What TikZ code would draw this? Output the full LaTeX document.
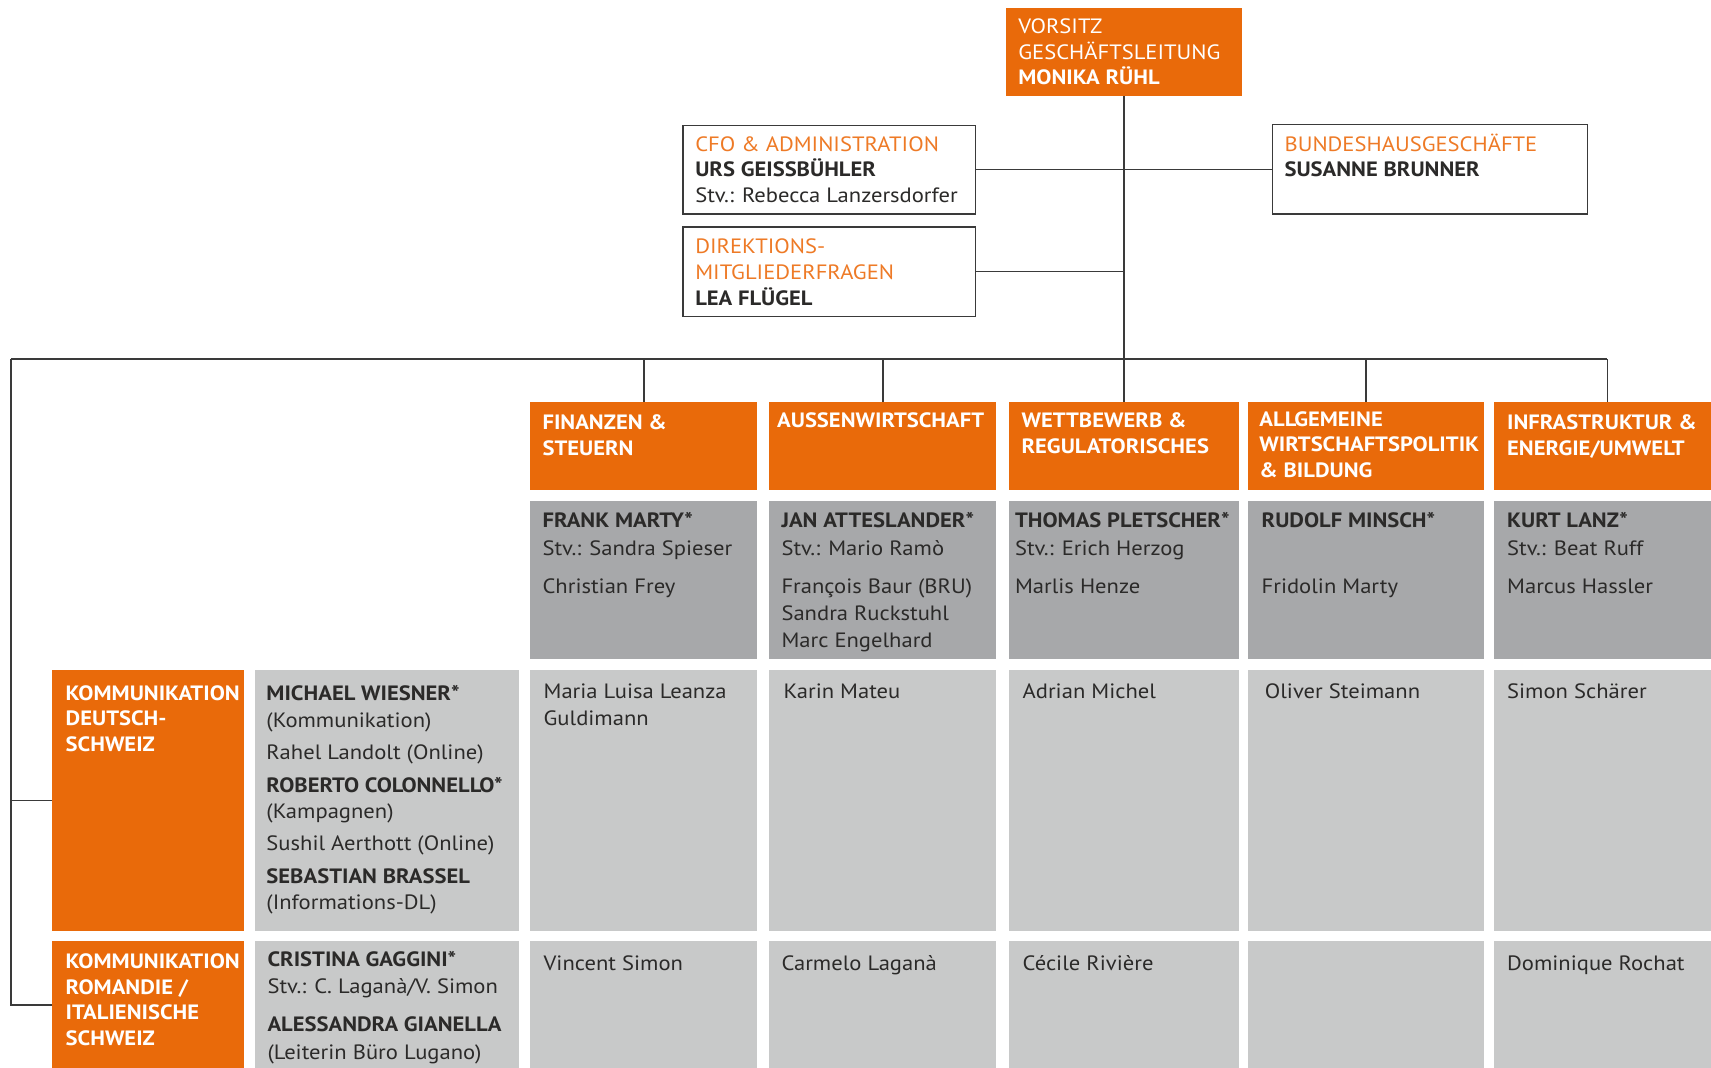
\documentclass[tikz,border=0pt]{standalone}
\usepackage{fontspec}
\setmainfont{PT Sans}[FakeStretch=1.09]
\definecolor{kader}{HTML}{E96A0A}
\definecolor{kaderschrift}{HTML}{EE7A26}
\definecolor{dunkelgrau}{HTML}{A7A8AA}
\definecolor{hellgrau}{HTML}{C8C9C9}
\definecolor{strich}{HTML}{3A3A3A}
\definecolor{schwarz}{HTML}{2B2A29}
\tikzset{
  kasten/.style={inner sep=0pt, outer sep=0pt, anchor=north west},
  rahmen/.style={kasten, draw=strich, line width=1.3pt, fill=white},
  ressort/.style={kasten, fill=kader},
  leitung/.style={kasten, fill=dunkelgrau},
  team/.style={kasten, fill=hellgrau},
  linie/.style={draw=strich, line width=1.3pt},
  schrift/.style={inner sep=0pt, anchor=north west, align=left, text=schwarz,
    font=\fontsize{19}{25}\selectfont},
  titel/.style={schrift, text=white, font=\fontsize{19}{23.5}\selectfont\bfseries},
  kopf/.style={schrift, font=\fontsize{19}{23.5}\selectfont},
}
\begin{document}
\begin{tikzpicture}[x=1pt,y=-1pt]
\useasboundingbox (0,0) rectangle (1568,978);
\clip (0,0) rectangle (1568,978);
\node[ressort, minimum width=216, minimum height=81] (vorsitz) at (922,7) {};
\node[rahmen, minimum width=268, minimum height=81] (cfo) at (626,115) {};
\node[rahmen, minimum width=289, minimum height=82] (bund) at (1166,114) {};
\node[rahmen, minimum width=268, minimum height=82] (dir) at (626,208) {};
\node[ressort, minimum width=208, minimum height=81] (fin) at (486,368) {};
\node[ressort, minimum width=208, minimum height=81] (aussen) at (705,368) {};
\node[ressort, minimum width=210, minimum height=81] (wett) at (925,368) {};
\node[ressort, minimum width=216, minimum height=81] (allg) at (1144,368) {};
\node[ressort, minimum width=208, minimum height=81] (infra) at (1369,368) {};
\node[leitung, minimum width=208, minimum height=145] (finL) at (486,459) {};
\node[leitung, minimum width=208, minimum height=145] (aussenL) at (705,459) {};
\node[leitung, minimum width=210, minimum height=145] (wettL) at (925,459) {};
\node[leitung, minimum width=216, minimum height=145] (allgL) at (1144,459) {};
\node[leitung, minimum width=216, minimum height=145] (infraL) at (1369,459) {};
\node[ressort, minimum width=176, minimum height=239] (kommd) at (48,614) {};
\node[team, minimum width=242, minimum height=239] (kommdS) at (234,614) {};
\node[team, minimum width=208, minimum height=239] (finD) at (486,614) {};
\node[team, minimum width=208, minimum height=239] (aussenD) at (705,614) {};
\node[team, minimum width=210, minimum height=239] (wettD) at (925,614) {};
\node[team, minimum width=216, minimum height=239] (allgD) at (1144,614) {};
\node[team, minimum width=216, minimum height=239] (infraD) at (1369,614) {};
\node[ressort, minimum width=176, minimum height=118] (kommr) at (48,862) {};
\node[team, minimum width=242, minimum height=118] (kommrS) at (234,862) {};
\node[team, minimum width=208, minimum height=118] (finR) at (486,862) {};
\node[team, minimum width=208, minimum height=118] (aussenR) at (705,862) {};
\node[team, minimum width=210, minimum height=118] (wettR) at (925,862) {};
\node[team, minimum width=216, minimum height=118] (allgR) at (1144,862) {};
\node[team, minimum width=216, minimum height=118] (infraR) at (1369,862) {};

\coordinate (bus) at (10,329);
\draw[linie] (vorsitz.south) -- (wett.north);
\draw[linie] (cfo.east) -- (cfo.east -| bund.west);
\draw[linie] (dir.east) -- (dir.east -| vorsitz.south);
\draw[linie] (bus) -- (bus -| infra.north);
\foreach \n in {fin,aussen,allg,infra}
  \draw[linie] (\n.north) -- (\n.north |- bus);
\draw[linie] (bus) |- (kommd.west);
\draw[linie] (bus) |- (kommr.west);

\node[kopf, text=white] (vorsitzT) at ([shift={(11,7)}]vorsitz.north west)
  {\strut VORSITZ\\GESCHÄFTSLEITUNG\\\textbf{MONIKA RÜHL}};
\node[kopf] (cfoT) at ([shift={(11,7)}]cfo.north west)
  {\strut\textcolor{kaderschrift}{CFO \& ADMINISTRATION}\\\textbf{URS GEISSBÜHLER}\\Stv.: Rebecca Lanzersdorfer};
\node[kopf] (bundT) at ([shift={(11,8)}]bund.north west)
  {\strut\textcolor{kaderschrift}{BUNDESHAUSGESCHÄFTE}\\\textbf{SUSANNE BRUNNER}};
\node[kopf] (dirT) at ([shift={(11,8)}]dir.north west)
  {\strut\textcolor{kaderschrift}{DIREKTIONS-}\\\textcolor{kaderschrift}{MITGLIEDERFRAGEN}\\\textbf{LEA FLÜGEL}};

\node[titel] (finT) at ([shift={(11,9)}]fin.north west) {\strut FINANZEN \&\\STEUERN};
\node[titel] (aussenT) at ([shift={(7,7)}]aussen.north west) {\strut AUSSENWIRTSCHAFT};
\node[titel] (wettT) at ([shift={(11,7)}]wett.north west) {\strut WETTBEWERB \&\\REGULATORISCHES};
\node[titel] (allgT) at ([shift={(10,6)}]allg.north west) {\strut ALLGEMEINE\\WIRTSCHAFTSPOLITIK\\\& BILDUNG};
\node[titel] (infraT) at ([shift={(12,9)}]infra.north west) {\strut INFRASTRUKTUR \&\\ENERGIE/UMWELT};

\node[schrift] (finLT) at ([shift={(11,7)}]finL.north west)
  {\strut\textbf{FRANK MARTY*}\\Stv.: Sandra Spieser\\[10pt]Christian Frey};
\node[schrift] (aussenLT) at ([shift={(11,7)}]aussenL.north west)
  {\strut\textbf{JAN ATTESLANDER*}\\Stv.: Mario Ramò\\[10pt]François Baur (BRU)\\Sandra Ruckstuhl\\Marc Engelhard};
\node[schrift] (wettLT) at ([shift={(5,7)}]wettL.north west)
  {\strut\textbf{THOMAS PLETSCHER*}\\Stv.: Erich Herzog\\[10pt]Marlis Henze};
\node[schrift] (allgLT) at ([shift={(12,7)}]allgL.north west)
  {\strut\textbf{RUDOLF MINSCH*}\\\\[10pt]Fridolin Marty};
\node[schrift] (infraLT) at ([shift={(12,7)}]infraL.north west)
  {\strut\textbf{KURT LANZ*}\\Stv.: Beat Ruff\\[10pt]Marcus Hassler};

\node[titel] (kommdT) at ([shift={(12,11)}]kommd.north west) {\strut KOMMUNIKATION\\DEUTSCH-\\SCHWEIZ};
\node[schrift, font=\fontsize{19}{24.5}\selectfont] (kommdST) at ([shift={(10,11)}]kommdS.north west)
  {\strut\textbf{MICHAEL WIESNER*}\\(Kommunikation)\\[5pt]Rahel Landolt (Online)\\[5pt]\textbf{ROBERTO COLONNELLO*}\\(Kampagnen)\\[5pt]Sushil Aerthott (Online)\\[5pt]\textbf{SEBASTIAN BRASSEL}\\(Informations-DL)};
\node[schrift] (finDT) at ([shift={(12,8)}]finD.north west) {\strut Maria Luisa Leanza\\Guldimann};
\node[schrift] (aussenDT) at ([shift={(13,8)}]aussenD.north west) {\strut Karin Mateu};
\node[schrift] (wettDT) at ([shift={(12,8)}]wettD.north west) {\strut Adrian Michel};
\node[schrift] (allgDT) at ([shift={(15,8)}]allgD.north west) {\strut Oliver Steimann};
\node[schrift] (infraDT) at ([shift={(12,8)}]infraD.north west) {\strut Simon Schärer};

\node[titel] (kommrT) at ([shift={(12,9)}]kommr.north west) {\strut KOMMUNIKATION\\ROMANDIE /\\ITALIENISCHE\\SCHWEIZ};
\node[schrift] (kommrST) at ([shift={(11,6)}]kommrS.north west)
  {\strut\textbf{CRISTINA GAGGINI*}\\Stv.: C. Laganà/V. Simon\\[10pt]\textbf{ALESSANDRA GIANELLA}\\(Leiterin Büro Lugano)};
\node[schrift] (finRT) at ([shift={(12,10)}]finR.north west) {\strut Vincent Simon};
\node[schrift] (aussenRT) at ([shift={(11,10)}]aussenR.north west) {\strut Carmelo Laganà};
\node[schrift] (wettRT) at ([shift={(12,10)}]wettR.north west) {\strut Cécile Rivière};
\node[schrift] (infraRT) at ([shift={(12,10)}]infraR.north west) {\strut Dominique Rochat};
\end{tikzpicture}
\end{document}
